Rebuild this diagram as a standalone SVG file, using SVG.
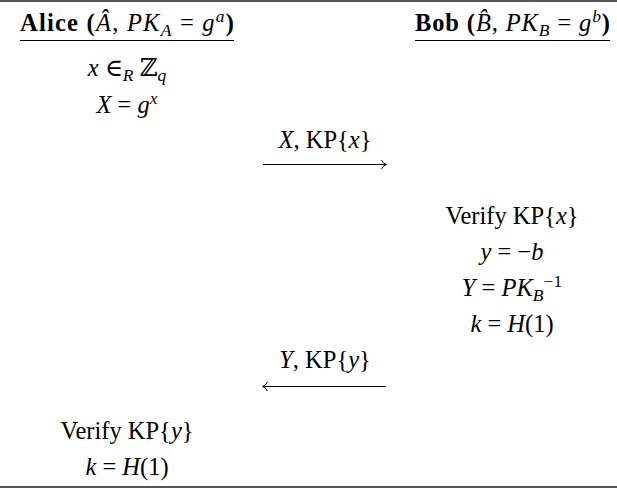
<svg xmlns="http://www.w3.org/2000/svg" width="617" height="489" viewBox="0 0 617 489">
<style>
text{font-family:"Liberation Serif","DejaVu Serif",serif;font-size:24.5px;fill:#000}
.i{font-style:italic}
.b{font-weight:bold}
.s{font-size:17.5px}
.rule{stroke:#555;stroke-width:2}
.ul{stroke:#000;stroke-width:1}
.arr{stroke:#000;stroke-width:1;fill:none}
.m{text-anchor:middle}
</style>
<line class="rule" x1="0" y1="1" x2="617" y2="1"/>
<line class="rule" x1="0" y1="487" x2="617" y2="487"/>
<g id="alice">
<text x="20" y="31" textLength="214" lengthAdjust="spacing"><tspan class="b">Alice (</tspan><tspan class="i">Â</tspan>, <tspan class="i">PK</tspan><tspan class="i s" dy="5">A</tspan><tspan dy="-5"> = </tspan><tspan class="i">g</tspan><tspan class="i s" dy="-9">a</tspan><tspan class="b" dy="9">)</tspan></text>
<line class="ul" x1="20" y1="40.5" x2="234" y2="40.5"/>
<text class="m" x="127" y="76"><tspan class="i">x</tspan> ∈<tspan class="i s" dy="5">R</tspan><tspan dy="-5"> ℤ</tspan><tspan class="i s" dy="5">q</tspan></text>
<text class="m" x="127" y="113"><tspan class="i">X</tspan> = <tspan class="i">g</tspan><tspan class="i s" dy="-9">x</tspan></text>
<text class="m" x="127" y="439">Verify KP{<tspan class="i">y</tspan>}</text>
<text class="m" x="127" y="475"><tspan class="i">k</tspan> = <tspan class="i">H</tspan>(1)</text>
</g>
<g id="bob">
<text x="610" y="31" text-anchor="end" textLength="195" lengthAdjust="spacing"><tspan class="b">Bob (</tspan><tspan class="i">B̂</tspan>, <tspan class="i">PK</tspan><tspan class="i s" dy="5">B</tspan><tspan dy="-5"> = </tspan><tspan class="i">g</tspan><tspan class="i s" dy="-9">b</tspan><tspan class="b" dy="9">)</tspan></text>
<line class="ul" x1="415" y1="40.5" x2="610" y2="40.5"/>
<text class="m" x="512" y="224">Verify KP{<tspan class="i">x</tspan>}</text>
<text class="m" x="512" y="260"><tspan class="i">y</tspan> = −<tspan class="i">b</tspan></text>
<text class="m" x="512" y="296"><tspan class="i">Y</tspan> = <tspan class="i">PK</tspan><tspan class="i s" dy="5">B</tspan><tspan class="s" dy="-14">−1</tspan></text>
<text class="m" x="512" y="332"><tspan class="i">k</tspan> = <tspan class="i">H</tspan>(1)</text>
</g>
<g id="connectors">
<path class="arr" d="M263 164.5 H386 M381.5 160 Q383 163.5 386.5 164.5 Q383 165.5 381.5 169"/>
<text class="m" x="325" y="148"><tspan class="i">X</tspan>, KP{<tspan class="i">x</tspan>}</text>
<path class="arr" d="M386 386.5 H263 M267.5 382 Q266 385.5 262.5 386.5 Q266 387.5 267.5 391"/>
<text class="m" x="325" y="368"><tspan class="i">Y</tspan>, KP{<tspan class="i">y</tspan>}</text>
</g>
</svg>
